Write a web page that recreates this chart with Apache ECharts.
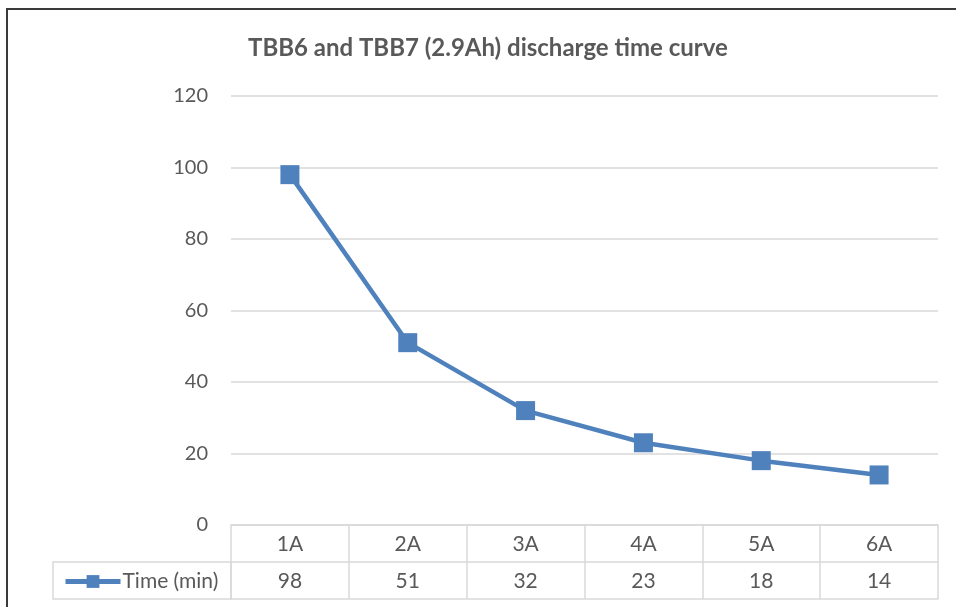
<!DOCTYPE html>
<html>
<head>
<meta charset="utf-8">
<script src="https://cdn.jsdelivr.net/npm/echarts@6/dist/echarts.min.js"></script>
<style>html,body{margin:0;padding:0;background:#fff}#c{width:956px;height:607px}</style>
</head>
<body>
<div id="c"></div>
<script>
const titleText = 'TBB6 and TBB7 (2.9Ah) discharge time curve';
const categories = ['1A', '2A', '3A', '4A', '5A', '6A'];
const seriesName = 'Time (min)';
const values = [98, 51, 32, 23, 18, 14];
const yMin = 0, yMax = 120, yStep = 20;

const FONT = 'Lato, "Open Sans", sans-serif';
const TXT = '#595959';
const GRIDC = '#d9d9d9';
const BLUE = '#4f81bd';

const chart = echarts.init(document.getElementById('c'), null, {renderer: 'canvas'});
chart.setOption({
  animation: false,
  backgroundColor: '#fff',
  title: {
    text: titleText, left: 243, top: 31,
    textStyle: {fontFamily: FONT, fontSize: 24, fontWeight: 'bold', color: TXT}
  },
  legend: {
    left: 58, top: 566, itemWidth: 55, itemHeight: 16, itemGap: 4,
    lineStyle: {width: 5},
    textStyle: {fontFamily: FONT, fontSize: 21, color: TXT, padding: [0,0,0,-3]},
    data: [seriesName]
  },
  grid: {left: 231, right: 18, top: 96, bottom: 82, containLabel: false},
  xAxis: [
    {
      type: 'category', data: categories, position: 'bottom', boundaryGap: true,
      axisLine: {show: true, lineStyle: {color: GRIDC, width: 1.5}},
      axisTick: {show: true, interval: 0, length: 74, lineStyle: {color: GRIDC, width: 1.5}},
      axisLabel: {fontFamily: FONT, fontSize: 21, color: TXT, margin: 9}
    },
    {
      type: 'category', data: values.map(String), position: 'bottom', offset: 37, boundaryGap: true,
      axisLine: {show: true, lineStyle: {color: GRIDC, width: 1.5}},
      axisTick: {show: false},
      axisLabel: {fontFamily: FONT, fontSize: 21, color: TXT, margin: 9}
    },
    {
      type: 'category', data: categories, position: 'bottom', offset: 74, boundaryGap: true,
      axisLine: {show: true, lineStyle: {color: GRIDC, width: 1.5}},
      axisTick: {show: false}, axisLabel: {show: false}
    }
  ],
  yAxis: {
    type: 'value', min: yMin, max: yMax, interval: yStep,
    axisLine: {show: false}, axisTick: {show: false},
    splitLine: {lineStyle: {color: GRIDC, width: 1.5}},
    axisLabel: {fontFamily: FONT, fontSize: 20, color: TXT, margin: 23}
  },
  series: [{
    name: seriesName, type: 'line', data: values, xAxisIndex: 0,
    symbol: 'rect', symbolSize: 19,
    lineStyle: {color: BLUE, width: 4.5},
    itemStyle: {color: BLUE}
  }],
  graphic: [
    {type: 'rect', shape: {x: 7, y: 9, width: 1000, height: 700},
     style: {fill: 'none', stroke: '#3a3a3a', lineWidth: 2}, silent: true},
    {type: 'rect', shape: {x: 53, y: 562, width: 178, height: 37},
     style: {fill: 'none', stroke: GRIDC, lineWidth: 1.5}, silent: true, z: -1}
  ]
});
</script>
</body>
</html>
